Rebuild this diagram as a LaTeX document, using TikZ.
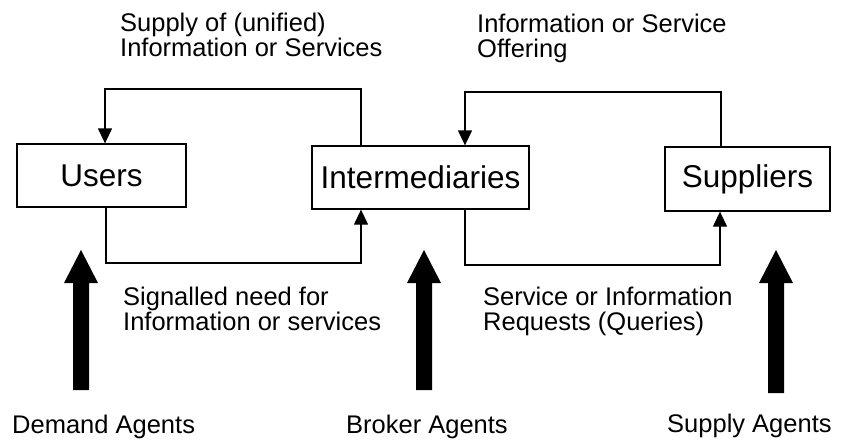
\documentclass[tikz,border=0pt]{standalone}
\usepackage{fontspec}
\setmainfont{Liberation Sans}
\usetikzlibrary{arrows.meta}
\begin{document}
\begin{tikzpicture}[x=1pt,y=-1pt,
  box/.style={draw,line width=1.3pt,inner sep=0pt,font=\fontsize{31.5}{34}\selectfont},
  conn/.style={line width=1.3pt,-{Triangle[width=14pt,length=15pt]}},
  lbl/.style={inner sep=0pt,anchor=base west,align=left,font=\fontsize{25.5}{25}\selectfont},
  bigarrow/.pic={\fill (0,0) -- (17,33) -- (8,33) -- (8,#1) -- (-8,#1) -- (-8,33) -- (-17,33) -- cycle;}]
\useasboundingbox (0,0) rectangle (859,445);
% boxes
\node[box,minimum width=169pt,minimum height=63pt] (users) at (101.5,175.5) {Users};
\node[box,minimum width=217pt,minimum height=63pt] (inter) at (420.5,177.5) {Intermediaries};
\node[box,minimum width=165pt,minimum height=64pt] (supp) at (747.5,179) {Suppliers};
% corner coordinates
\coordinate (a1) at (361,89); \coordinate (a2) at (105,89);
\coordinate (b1) at (721,92); \coordinate (b2) at (465,92);
\coordinate (c1) at (106,263); \coordinate (c2) at (361,263);
\coordinate (d1) at (465,265); \coordinate (d2) at (720,265);
% connectors
\draw[conn] (inter.north -| a1) -- (a1) -- (a2) -- (users.north -| a2);
\draw[conn] (supp.north -| b1) -- (b1) -- (b2) -- (inter.north -| b2);
\draw[conn] (users.south -| c1) -- (c1) -- (c2) -- (inter.south -| c2);
\draw[conn] (inter.south -| d1) -- (d1) -- (d2) -- (supp.south -| d2);
% labels (base anchor = baseline of last line)
\node[lbl] (l1) at (120,56) {Supply of (unified)\\Information or Services};
\node[lbl] (l2) at (477,57) {Information or Service\\Offering};
\node[lbl] (l3) at (123,330) {Signalled need for\\Information or services};
\node[lbl] (l4) at (483,330) {Service or Information\\Requests (Queries)};
% big arrows
\pic at (81,250) {bigarrow=140};
\pic at (424,250) {bigarrow=140};
\pic at (776,250) {bigarrow=143};
% agent labels
\node[lbl] (da) at (12,433) {Demand Agents};
\node[lbl] (ba) at (346,433) {Broker Agents};
\node[lbl] (sa) at (667,432) {Supply Agents};
\end{tikzpicture}
\end{document}
